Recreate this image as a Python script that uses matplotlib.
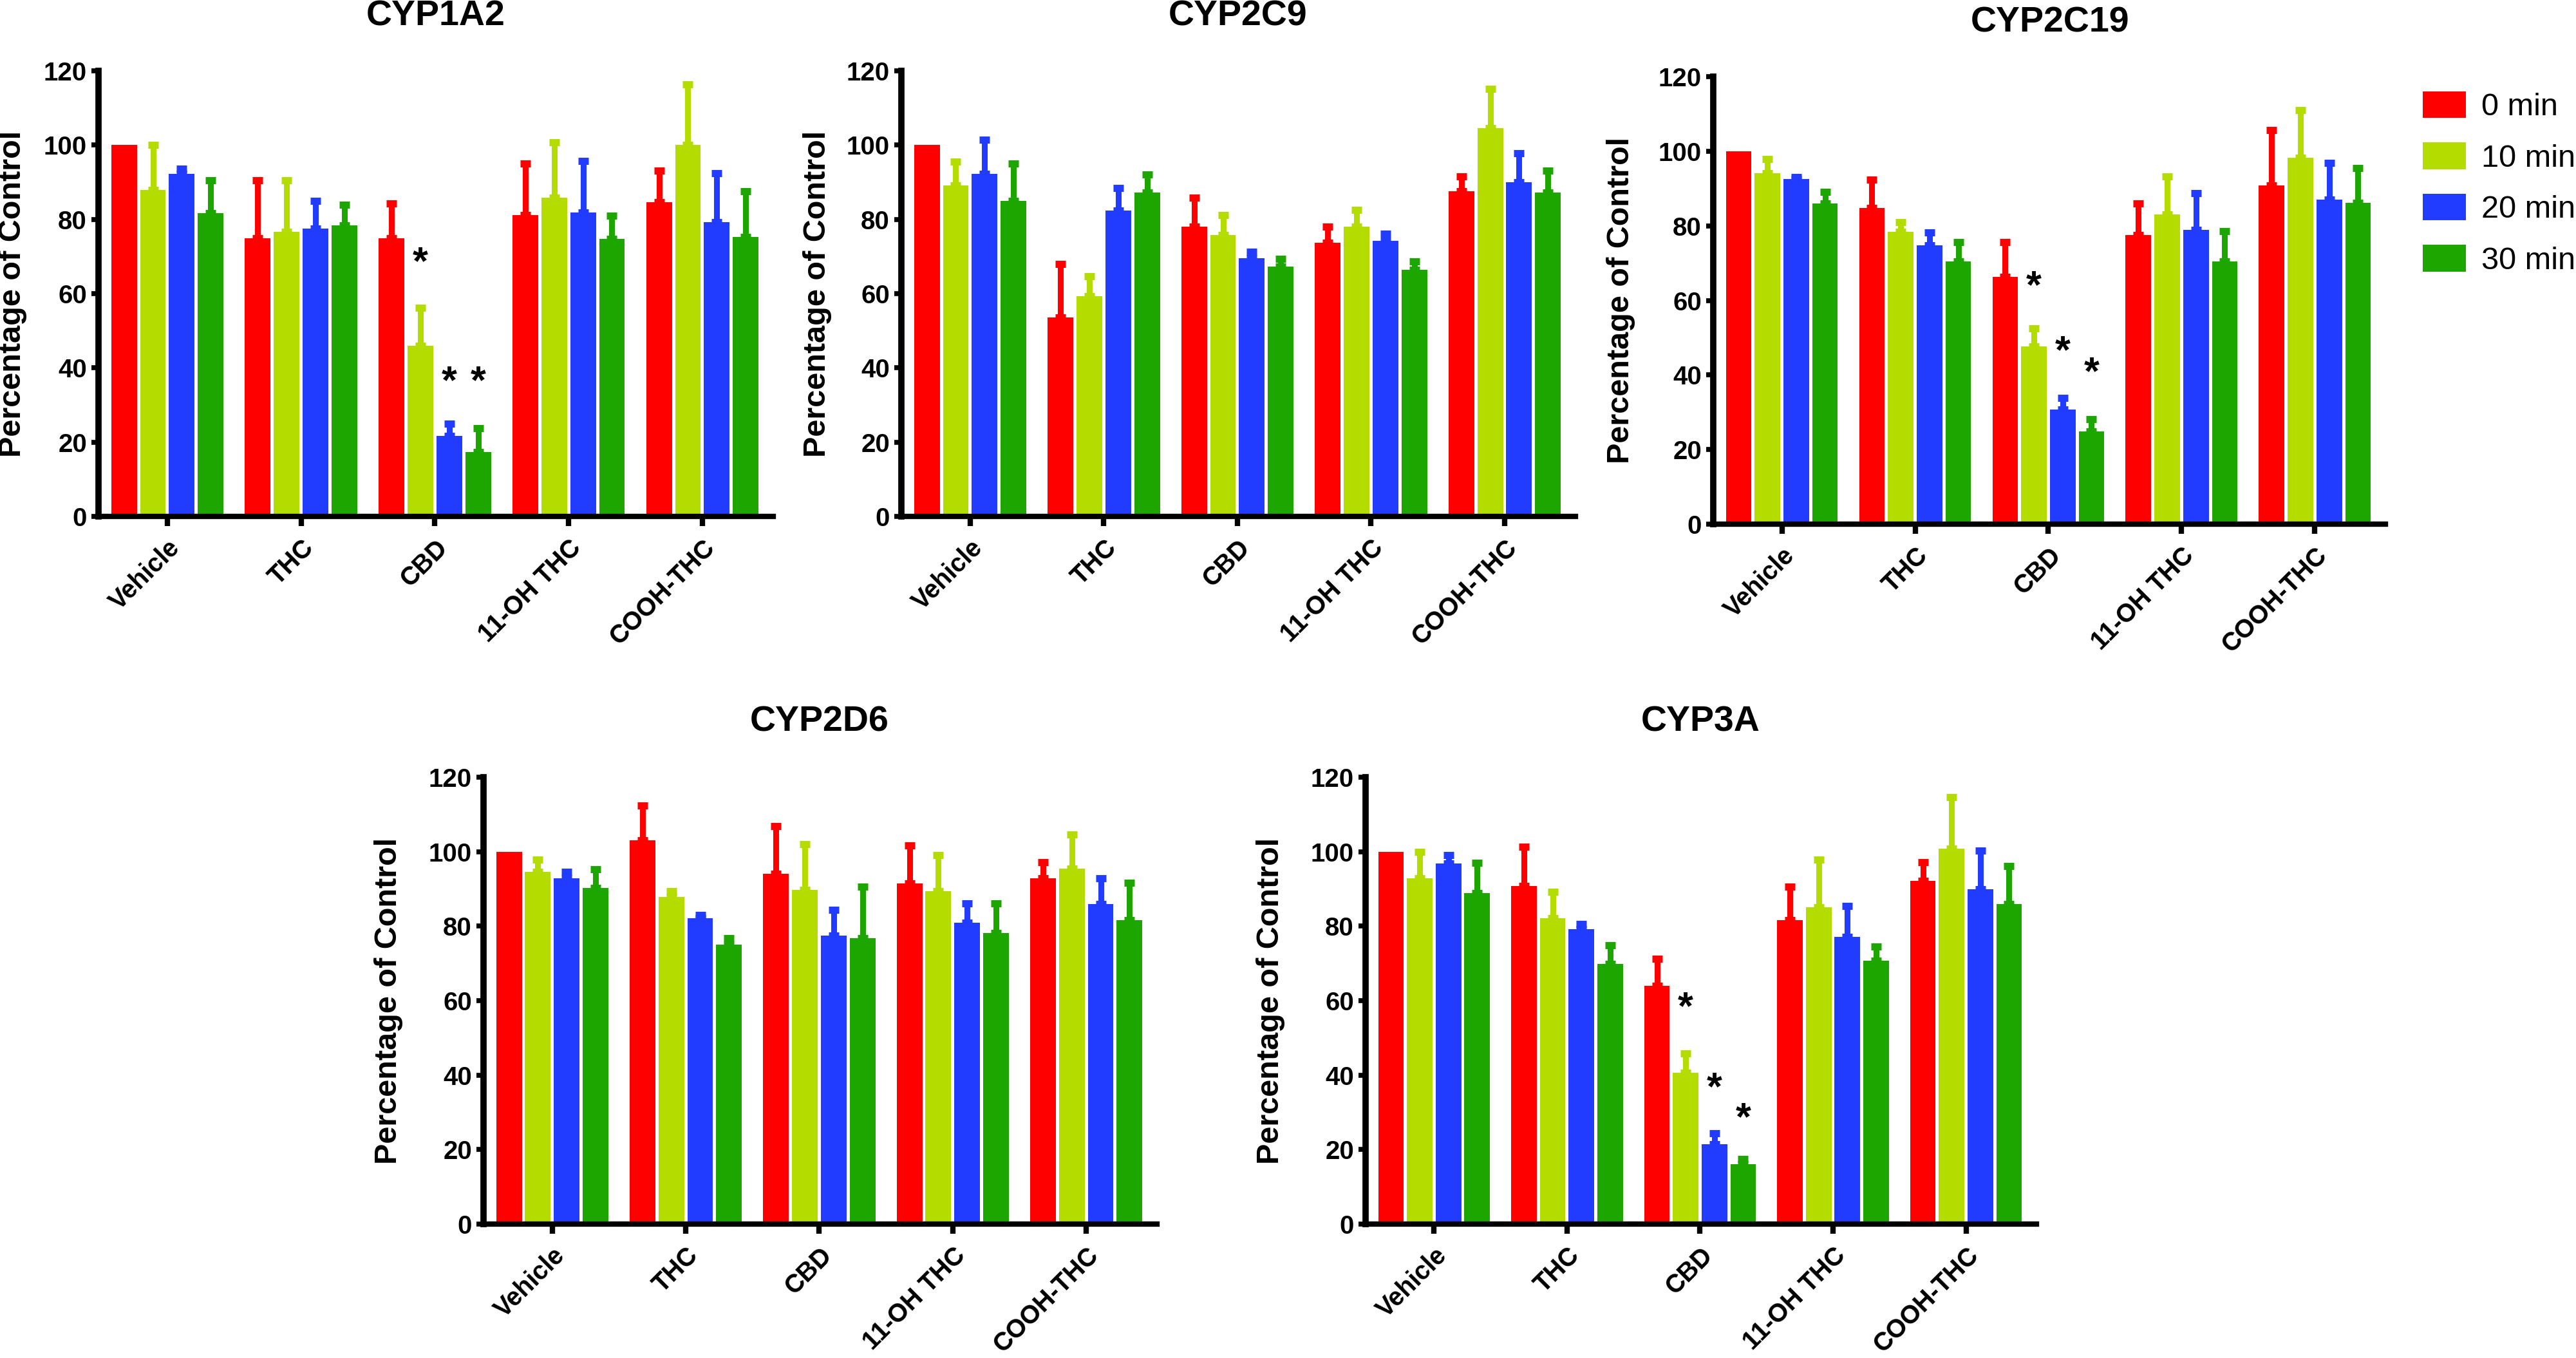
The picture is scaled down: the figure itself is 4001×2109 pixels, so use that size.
import numpy as np
import matplotlib
matplotlib.use("Agg")
import matplotlib.pyplot as plt
from matplotlib.patches import Patch

# values (percentage of control)
drugs = ["Vehicle", "THC", "CBD", "11-OH THC", "COOH-THC"]
times = ["0 min", "10 min", "20 min", "30 min"]
colors = ["#FF0000", "#B5DC00", "#223CFF", "#1EA600"]

# bar heights, one row per time point, one column per drug
cyp1a2 = [[100.0, 75.0, 75.0, 81.2, 84.7],
          [87.9, 76.7, 46.0, 85.9, 100.0],
          [92.2, 77.5, 21.6, 81.9, 79.2],
          [81.6, 78.3, 17.4, 74.8, 75.3]]
cyp1a2_err = [[np.nan, 90.6, 84.2, 95.0, 93.2],
              [100.0, 90.6, 56.2, 100.7, 116.3],
              [93.6, 85.0, 24.9, 95.8, 92.5],
              [90.6, 84.0, 23.8, 80.9, 87.5]]

cyp2c9 = [[100.0, 53.5, 78.1, 73.7, 87.5],
          [89.2, 59.3, 75.7, 78.1, 104.5],
          [92.3, 82.3, 69.5, 74.2, 90.0],
          [85.0, 87.2, 67.3, 66.4, 87.2]]
cyp2c9_err = [[np.nan, 67.9, 85.9, 78.1, 91.6],
              [95.6, 64.6, 81.1, 82.5, 115.2],
              [101.4, 88.4, 71.2, 76.2, 97.8],
              [95.0, 92.0, 69.3, 68.6, 93.1]]

cyp2c19 = [[100.0, 84.8, 66.3, 77.5, 90.8],
           [94.1, 78.4, 47.6, 83.0, 98.2],
           [92.5, 74.8, 30.7, 78.9, 87.1],
           [85.9, 70.4, 24.8, 70.5, 86.1]]
cyp2c19_err = [[np.nan, 92.4, 75.6, 85.9, 105.6],
               [97.9, 80.9, 52.5, 93.3, 111.1],
               [93.0, 78.2, 33.8, 88.8, 96.9],
               [89.1, 75.6, 28.1, 78.6, 95.5]]

cyp2d6 = [[100.0, 103.1, 94.1, 91.5, 92.9],
          [94.6, 87.9, 89.7, 89.4, 95.5],
          [92.9, 82.1, 77.5, 80.9, 85.9],
          [90.2, 75.1, 76.8, 78.1, 81.6]]
cyp2d6_err = [[np.nan, 112.4, 106.9, 101.7, 97.2],
              [97.9, 89.4, 102.0, 99.1, 104.6],
              [94.6, 83.0, 84.4, 86.1, 92.9],
              [95.2, 76.8, 90.6, 86.1, 91.7]]

cyp3a = [[100.0, 90.8, 64.0, 81.6, 92.1],
         [92.9, 82.1, 40.7, 85.0, 100.8],
         [96.8, 79.2, 21.4, 77.1, 90.0],
         [88.8, 69.9, 16.0, 70.7, 85.9]]
cyp3a_err = [[np.nan, 101.3, 71.3, 90.6, 97.2],
             [99.9, 89.2, 45.8, 97.9, 114.7],
             [99.0, 80.6, 24.3, 85.5, 100.3],
             [97.0, 74.8, 17.5, 74.5, 96.2]]

# significance marks: (drug index, time index, height of the asterisk)
cyp1a2_stars = [(2, 1, 68.0), (2, 2, 36.0), (2, 3, 36.0)]
cyp2c19_stars = [(2, 1, 63.5), (2, 2, 46.0), (2, 3, 40.3)]
cyp3a_stars = [(2, 1, 57.8), (2, 2, 36.2), (2, 3, 28.1)]

plt.rcParams['font.family'] = ['Liberation Sans', 'DejaVu Sans']

W, H = 4001, 2109
fig = plt.figure(figsize=(W / 100, H / 100), dpi=100)


def px_box(left, right, top, bottom):
    return [left / W, 1 - bottom / H, (right - left) / W, (bottom - top) / H]


# panel name, data, errors, stars, axes box in pixels, title pos, ylabel pos
panels = [
    ("CYP1A2", cyp1a2, cyp1a2_err, cyp1a2_stars, (153, 1201, 110, 802), (677, 25), (20, 456)),
    ("CYP2C9", cyp2c9, cyp2c9_err, [], (1400, 2447, 110, 802), (1923, 25), (1269, 456)),
    ("CYP2C19", cyp2c19, cyp2c19_err, cyp2c19_stars, (2661, 3705, 119, 814), (3184, 36), (2518, 466)),
    ("CYP2D6", cyp2d6, cyp2d6_err, [], (751, 1797, 1207, 1901), (1273, 1122), (603, 1554)),
    ("CYP3A", cyp3a, cyp3a_err, cyp3a_stars, (2121, 3163, 1207, 1901), (2641, 1122), (1973, 1554)),
]

slot = 0.216
bar_w = 0.192
offsets = (np.arange(4) - 1.5) * slot
xc = np.arange(len(drugs))

for name, vals, errs, stars, box, tpos, lpos in panels:
    ax = fig.add_axes(px_box(*box))
    vals = np.array(vals)
    errs = np.array(errs)
    for i in range(4):
        x = xc + offsets[i]
        ax.bar(x, vals[i], width=bar_w, color=colors[i], linewidth=0, zorder=2)
        # only the upper half of the error bar is shown
        ok = ~np.isnan(errs[i])
        up = errs[i][ok] - vals[i][ok]
        ax.errorbar(x[ok], vals[i][ok], yerr=[np.zeros_like(up), up], fmt='none',
                    ecolor=colors[i], elinewidth=6.5, capsize=5.75, capthick=8, zorder=3)

    for g, t, y in stars:
        ax.text(xc[g] + offsets[t], y, "*", ha='center', va='center',
                fontsize=44, fontweight='bold', color='black')

    ax.set_ylim(0, 120)
    ax.set_xlim(-0.515, 4.53)
    ax.set_yticks(np.arange(0, 121, 20))
    ax.set_xticks(xc)
    ax.set_xticklabels(drugs, rotation=45, ha='right', rotation_mode='anchor',
                       fontsize=28.5, fontweight='bold')
    for lbl in ax.get_yticklabels():
        lbl.set_fontweight('bold')
        lbl.set_fontsize(29)

    for s in ['top', 'right']:
        ax.spines[s].set_visible(False)
    ax.spines['left'].set_linewidth(7)
    ax.spines['bottom'].set_linewidth(6)
    ax.spines['left'].set_capstyle('projecting')
    ax.spines['bottom'].set_capstyle('projecting')
    ax.tick_params(axis='y', length=8, width=5.5, pad=5)
    ax.tick_params(axis='x', length=11, width=6, pad=10)

    fig.text(tpos[0] / W, 1 - tpos[1] / H, name, ha='center', va='center',
             fontsize=40, fontweight='bold')
    fig.text(lpos[0] / W, 1 - lpos[1] / H, "Percentage of Control", rotation=90,
             ha='center', va='center', fontsize=35, fontweight='bold')

handles = [Patch(facecolor=c, edgecolor='none') for c in colors]
fig.legend(handles, times, loc='upper left', bbox_to_anchor=(3763 / W, 1 - 142 / H),
           frameon=False, borderpad=0, borderaxespad=0, fontsize=35,
           handlelength=1.38, handleheight=0.93, handletextpad=0.5, labelspacing=0.66)

fig.savefig("out.png", dpi=100)
